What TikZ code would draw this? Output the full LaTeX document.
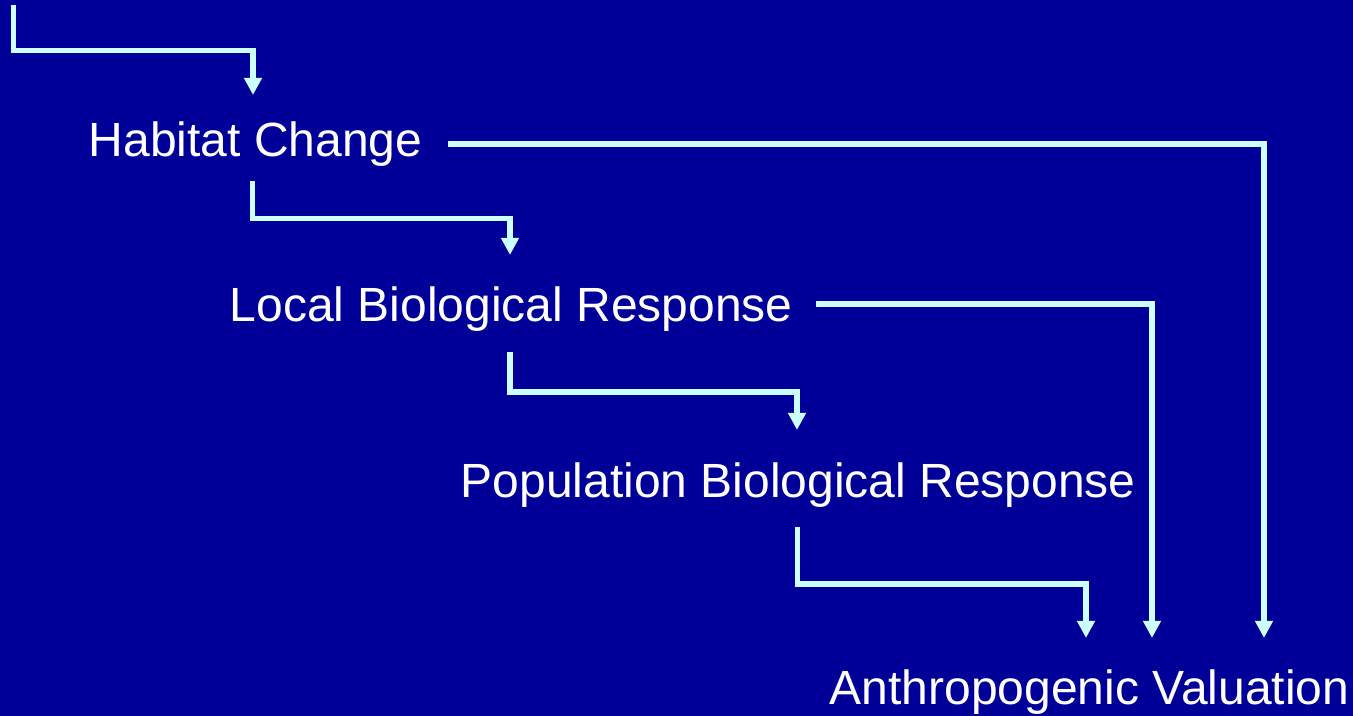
\documentclass[tikz,border=0pt]{standalone}
\usepackage{fontspec}
\setmainfont{Liberation Sans}
\usetikzlibrary{arrows.meta}
\definecolor{slidebg}{RGB}{0,0,153}
\definecolor{flowcyan}{RGB}{204,255,255}

\begin{document}
\begin{tikzpicture}[
  x=0.01cm, y=-0.01cm,
  stage/.style = {anchor=base west, inner sep=0pt, text=white,
                  font=\fontsize{13.65}{16}\selectfont},
  flow/.style  = {-{Triangle[length=0.17cm, width=0.17cm]},
                  line width=0.055cm, draw=flowcyan, fill=none}
]
\useasboundingbox (0,0) rectangle (1353,716);
\fill[slidebg] (0,0) rectangle (1353,716);

%% ---- STAGES ----
\node[stage] (habitat) at (88,157)  {Habitat Change};
\node[stage] (local)   at (229,322) {Local Biological Response};
\node[stage] (popul)   at (460,498) {Population Biological Response};
\node[stage] (anthro)  at (829,705) {Anthropogenic Valuation};

%% ---- ports ----
\coordinate (top-src)  at (13.5,5);
\coordinate (hab-in)   at (253,95);
\coordinate (hab-out)  at (252.5,181);
\coordinate (hab-side) at (448,144);
\coordinate (loc-in)   at (510,255);
\coordinate (loc-out)  at (510,352);
\coordinate (loc-side) at (816,304);
\coordinate (pop-in)   at (797,430);
\coordinate (pop-out)  at (797.5,527);
\coordinate (val-in1)  at (1086,638);
\coordinate (val-in2)  at (1152,638);
\coordinate (val-in3)  at (1264,638);

% cascade down the stages
\draw[flow] (top-src) |- (253,50.5)    -- (hab-in);
\draw[flow] (hab-out) |- (510,218.5)   -- (loc-in);
\draw[flow] (loc-out) |- (797,392)     -- (pop-in);
\draw[flow] (pop-out) |- (1086,584)    -- (val-in1);

% side branches into the valuation
\draw[flow] (loc-side) -| (val-in2);
\draw[flow] (hab-side) -| (val-in3);

\end{tikzpicture}
\end{document}
